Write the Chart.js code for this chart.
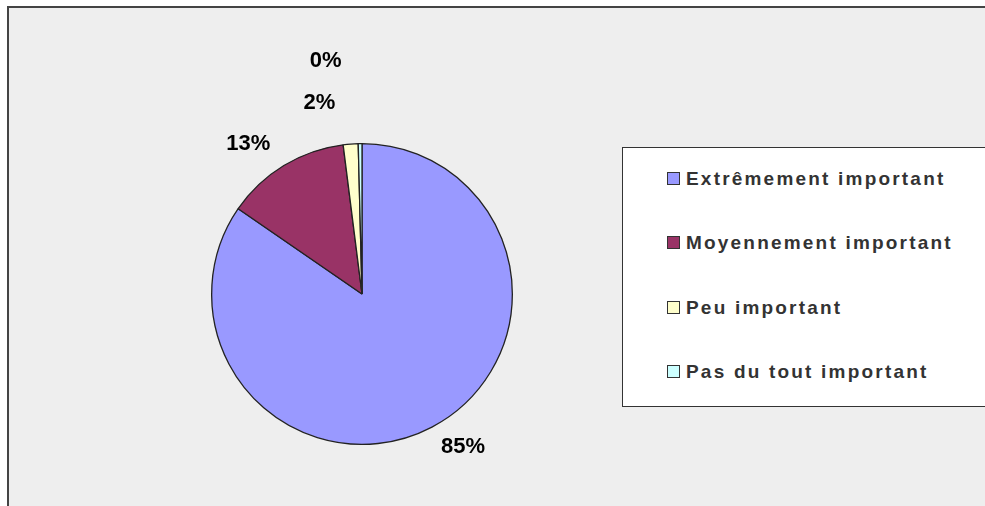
<!DOCTYPE html>
<html>
<head>
<meta charset="utf-8">
<script src="https://cdn.jsdelivr.net/npm/chart.js@4.4.0/dist/chart.umd.min.js"></script>
<style>
  body { margin: 0; background: #ffffff; }
  #wrap { position: relative; width: 985px; height: 506px; overflow: hidden; }
  #frame {
    position: absolute; left: 7px; top: 6px; width: 1000px; height: 520px;
    background: #eeeeee; border: 2px solid #444444;
  }
  #c { position: absolute; left: 0; top: 0; }
  #legende {
    position: absolute; left: 622px; top: 147px; width: 400px; height: 258px;
    background: #ffffff; border: 1px solid #333333;
    font-family: "Liberation Sans", Arial, sans-serif; font-weight: bold;
    font-size: 19px; letter-spacing: 2.2px; color: #333333;
  }
  .item { position: absolute; left: 44px; height: 22px; line-height: 22px; white-space: nowrap; }
  .carre {
    display: inline-block; width: 11px; height: 11px; border: 1px solid #333333;
    vertical-align: middle; margin-right: 6px; position: relative; top: -1px;
  }
</style>
</head>
<body>
<div id="wrap">
  <div id="frame"></div>
  <canvas id="c" width="985" height="506"></canvas>
  <div id="legende"></div>
</div>
<script>
const categories = ['Extrêmement important', 'Moyennement important', 'Peu important', 'Pas du tout important'];
const valeurs = [84.6, 13.4, 1.6, 0.4];
const couleurs = ['#9999ff', '#993366', '#ffffcc', '#ccffff'];

// décalage des étiquettes (Excel les pousse pour éviter les chevauchements)
const decalages = [[17, -7], [-20, 4], [-29, -11], [-34, -53]];

const total = valeurs.reduce((a, b) => a + b, 0);

const etiquettes = {
  id: 'etiquettes',
  afterDatasetsDraw(chart) {
    const ctx = chart.ctx;
    const arcs = chart.getDatasetMeta(0).data;
    ctx.save();
    ctx.font = 'bold 22px "Liberation Sans", Arial, sans-serif';
    ctx.fillStyle = '#000000';
    ctx.textAlign = 'center';
    ctx.textBaseline = 'middle';
    arcs.forEach((arc, i) => {
      const p = arc.getProps(['x', 'y', 'startAngle', 'endAngle', 'outerRadius'], true);
      const milieu = (p.startAngle + p.endAngle) / 2;
      const r = p.outerRadius * 1.2;
      const x = p.x + Math.cos(milieu) * r + decalages[i][0];
      const y = p.y + Math.sin(milieu) * r + decalages[i][1];
      ctx.fillText(Math.round(valeurs[i] / total * 100) + '%', x, y);
    });
    ctx.restore();
  }
};

const chart = new Chart(document.getElementById('c'), {
  type: 'pie',
  data: {
    labels: categories,
    datasets: [{
      data: valeurs,
      backgroundColor: couleurs,
      borderColor: '#222222',
      borderWidth: 1.3
    }]
  },
  options: {
    responsive: false,
    animation: false,
    layout: { padding: { left: 211, top: 143, right: 472, bottom: 61 } },
    plugins: {
      legend: { display: false },
      tooltip: { enabled: false }
    }
  },
  plugins: [etiquettes]
});

// légende HTML construite à partir des données
const legende = document.getElementById('legende');
const lignesY = [20, 84, 149, 213];
categories.forEach((nom, i) => {
  const div = document.createElement('div');
  div.className = 'item';
  div.style.top = lignesY[i] + 'px';
  const carre = document.createElement('span');
  carre.className = 'carre';
  carre.style.background = couleurs[i];
  div.appendChild(carre);
  div.appendChild(document.createTextNode(nom));
  legende.appendChild(div);
});
</script>
</body>
</html>
